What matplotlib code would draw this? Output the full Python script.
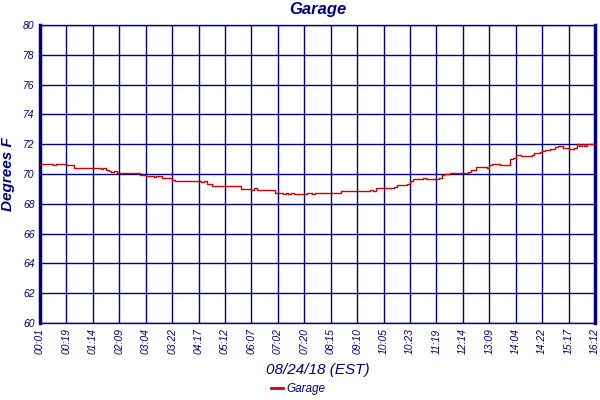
import matplotlib
matplotlib.use("Agg")
import matplotlib.pyplot as plt

tick_labels = ["00:01", "00:19", "01:14", "02:09", "03:04", "03:22", "04:17", "05:12",
               "06:07", "07:02", "07:20", "08:15", "09:10", "10:05", "10:23", "11:19",
               "12:14", "13:09", "14:04", "14:22", "15:17", "16:12"]
points_per_label = 10

garage = [
    70.7, 70.7, 70.65, 70.7, 70.65, 70.6, 70.7, 70.65, 70.7, 70.65,
    70.6, 70.6, 70.6, 70.4, 70.4, 70.4, 70.4, 70.4, 70.4, 70.4,
    70.4, 70.4, 70.4, 70.35, 70.4, 70.3, 70.2, 70.15, 70.2, 70.1,
    70.1, 70.1, 70.1, 70.1, 70.1, 70.1, 70.1, 70.05, 69.9, 69.9,
    69.85, 69.85, 69.85, 69.8, 69.85, 69.85, 69.75, 69.75, 69.75, 69.75,
    69.6, 69.55, 69.55, 69.55, 69.55, 69.55, 69.55, 69.55, 69.55, 69.55,
    69.5, 69.45, 69.5, 69.35, 69.3, 69.2, 69.2, 69.2, 69.2, 69.2,
    69.2, 69.2, 69.2, 69.2, 69.2, 69.2, 69.0, 69.0, 69.0, 69.0,
    68.95, 69.05, 68.95, 68.95, 68.95, 68.95, 68.95, 68.95, 68.95, 68.75,
    68.7, 68.7, 68.65, 68.7, 68.65, 68.7, 68.65, 68.65, 68.65, 68.65,
    68.65, 68.7, 68.7, 68.65, 68.7, 68.7, 68.7, 68.75, 68.7, 68.7,
    68.7, 68.7, 68.75, 68.7, 68.85, 68.85, 68.85, 68.85, 68.85, 68.85,
    68.85, 68.85, 68.85, 68.85, 68.85, 68.9, 68.85, 69.05, 69.05, 69.05,
    69.05, 69.05, 69.05, 69.05, 69.1, 69.25, 69.25, 69.25, 69.25, 69.3,
    69.5, 69.65, 69.65, 69.65, 69.65, 69.7, 69.65, 69.65, 69.65, 69.65,
    69.65, 69.7, 69.9, 70.0, 70.0, 70.05, 70.05, 70.05, 70.05, 70.05,
    70.05, 70.05, 70.15, 70.25, 70.25, 70.5, 70.5, 70.5, 70.45, 70.4,
    70.6, 70.65, 70.65, 70.65, 70.6, 70.6, 70.6, 70.6, 71.0, 71.05,
    71.25, 71.25, 71.2, 71.2, 71.2, 71.2, 71.3, 71.4, 71.4, 71.45,
    71.55, 71.6, 71.6, 71.65, 71.65, 71.8, 71.85, 71.85, 71.75, 71.75,
    71.7, 71.7, 71.75, 72.0, 71.9, 72.0, 71.9, 72.0, 72.0, 72.0,
    72.0,
]

navy = "#000080"
font = "Liberation Sans"

fig = plt.figure(figsize=(6, 4), dpi=100)
ax = fig.add_axes([40 / 600, 77 / 400, 555 / 600, 298 / 400])

x = list(range(len(garage)))
line, = ax.plot(x, garage, color="#cc0000", linewidth=1.0, label="Garage",
                drawstyle="steps-post", zorder=3)

ax.set_xlim(0, len(garage) - 1)
ax.set_ylim(60, 80)
ax.set_yticks(range(60, 81, 2))
ax.set_xticks([i * points_per_label for i in range(len(tick_labels))])
ax.set_xticklabels(tick_labels, rotation=90, fontsize=7.5, style="italic",
                   color=navy, family=font)
ax.set_yticklabels([str(v) for v in range(60, 81, 2)], fontsize=7.5,
                   style="italic", color=navy, family=font)
ax.tick_params(length=0, pad=4)
ax.grid(True, color=navy, linewidth=1.0, zorder=1)
ax.set_axisbelow(True)
for s in ["top", "bottom"]:
    ax.spines[s].set_color(navy)
    ax.spines[s].set_linewidth(1.0)
for s in ["left", "right"]:
    ax.spines[s].set_color(navy)
    ax.spines[s].set_linewidth(2.5)

ax.set_title("Garage", fontsize=12, fontweight="bold", style="italic",
             color=navy, family=font, pad=8)
ax.set_ylabel("Degrees F", fontsize=11, fontweight="bold", style="italic",
              color=navy, family=font, labelpad=6)
ax.set_xlabel("08/24/18 (EST)", fontsize=11, style="italic", color=navy,
              family=font, labelpad=6)

leg = fig.legend(handles=[line], loc="center", bbox_to_anchor=(298 / 600, 1 - 389 / 400),
                 frameon=False, handlelength=1.0, handletextpad=0.3,
                 prop={"family": font, "style": "italic", "size": 8.5})
for t in leg.get_texts():
    t.set_color(navy)
leg.get_lines()[0].set_linewidth(2)

fig.savefig("out.png", dpi=100)
